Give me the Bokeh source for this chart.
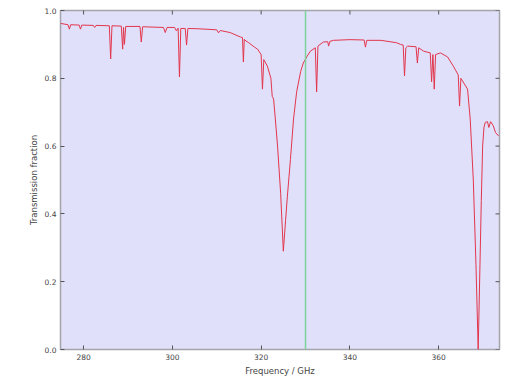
import math
from bokeh.plotting import figure
from bokeh.models import Span, Range1d, FixedTicker
from bokeh.embed import file_html
from bokeh.resources import INLINE

freq = [274.8, 276.5, 276.8, 277.1, 279.0, 279.3, 279.6, 282.2, 282.5, 282.8,
        285.8, 286.1, 286.4, 288.5, 288.8, 289.0, 289.2, 289.5, 292.7, 293.0,
        293.3, 298.0, 298.4, 298.8, 300.5, 300.9, 301.3, 301.6, 301.9, 302.9,
        303.2, 303.5, 306.0, 310.0, 310.4, 310.8, 313.0, 315.3, 315.8, 316.0,
        316.2, 316.6, 317.2, 318.5, 319.2, 320.0, 320.3, 320.6, 321.4, 322.2,
        322.5, 322.8, 323.2, 323.7, 324.4, 325.0, 325.5, 325.9, 326.6, 327.3,
        328.0, 328.9, 329.5, 330.4, 331.1, 332.2, 332.5, 332.8, 334.0, 335.0,
        335.2, 335.5, 336.3, 340.0, 343.2, 343.5, 343.8, 347.0, 350.5, 351.4,
        352.0, 352.3, 352.6, 353.0, 354.9, 355.2, 355.5, 356.6, 358.1, 358.4,
        358.7, 359.0, 359.3, 360.4, 362.0, 363.3, 364.4, 364.7, 365.0, 366.5,
        367.1, 367.8, 368.4, 368.9, 369.3, 369.6, 369.9, 370.2, 370.5, 371.0,
        371.3, 371.7, 372.3, 372.8, 373.5]
trans = [0.962, 0.958, 0.945, 0.958, 0.957, 0.945, 0.957, 0.956, 0.950, 0.956,
         0.955, 0.857, 0.955, 0.954, 0.886, 0.950, 0.900, 0.953, 0.953, 0.907,
         0.952, 0.950, 0.935, 0.950, 0.950, 0.940, 0.948, 0.804, 0.947, 0.947,
         0.898, 0.947, 0.946, 0.943, 0.934, 0.941, 0.935, 0.922, 0.920, 0.848,
         0.915, 0.910, 0.905, 0.892, 0.886, 0.870, 0.768, 0.855, 0.836, 0.800,
         0.747, 0.739, 0.680, 0.600, 0.460, 0.290, 0.380, 0.450, 0.560, 0.680,
         0.760, 0.820, 0.845, 0.866, 0.880, 0.890, 0.760, 0.895, 0.907, 0.908,
         0.895, 0.909, 0.912, 0.914, 0.913, 0.892, 0.912, 0.912, 0.905, 0.900,
         0.898, 0.807, 0.890, 0.895, 0.893, 0.845, 0.890, 0.880, 0.875, 0.790,
         0.870, 0.768, 0.870, 0.875, 0.863, 0.836, 0.810, 0.718, 0.800, 0.768,
         0.680, 0.500, 0.250, 0.000, 0.250, 0.440, 0.600, 0.655, 0.670, 0.672,
         0.655, 0.672, 0.660, 0.640, 0.630]

marker_freq = 330.0
x_ticks = [280, 300, 320, 340, 360]
y_ticks = [0.0, 0.2, 0.4, 0.6, 0.8, 1.0]
x_label = "Frequency / GHz"
y_label = "Transmission fraction"

x0, x1 = 274.8, 373.7
y0, y1 = 0.0, 1.0

p = figure(width=505, height=381, output_backend="svg", toolbar_location=None,
           x_range=Range1d(x0, x1), y_range=Range1d(y0, y1),
           min_border_left=60, min_border_right=6, min_border_top=10,
           min_border_bottom=32, background_fill_color="#e0e0fa",
           border_fill_color="white", outline_line_color="#a4a4ac",
           outline_line_width=1.5)
p.grid.visible = False

p.line(freq, trans, line_color="#e2364c", line_width=1.0)
p.add_layout(Span(location=marker_freq, dimension="height",
                  line_color="#7cd49a", line_width=1.5))

# mirror ticks on the right and top edges of the frame
p.scatter([x1] * len(y_ticks), y_ticks, marker="dash", size=8,
          line_color="#555555", line_width=1)
p.scatter(x_ticks, [y1] * len(x_ticks), marker="dash", size=8,
          angle=math.pi / 2, line_color="#555555", line_width=1)

font = "DejaVu Sans"
for ax in p.xaxis:
    ax.ticker = FixedTicker(ticks=x_ticks)
    ax.axis_label = x_label
for ax in p.yaxis:
    ax.ticker = FixedTicker(ticks=y_ticks)
    ax.axis_label = y_label
    ax.major_label_overrides = {t: f"{t:.1f}" for t in y_ticks}
for ax in p.xaxis + p.yaxis:
    ax.axis_line_color = None
    ax.major_tick_in = 4
    ax.major_tick_out = 0
    ax.minor_tick_line_color = None
    ax.major_tick_line_color = "#555555"
    ax.major_label_text_font = font
    ax.major_label_text_font_size = "7.5px"
    ax.major_label_text_color = "#444444"
    ax.axis_label_text_font = font
    ax.axis_label_text_font_size = "8.5px"
    ax.axis_label_text_font_style = "normal"
    ax.axis_label_text_color = "#444444"
    ax.major_label_standoff = 4
    ax.axis_label_standoff = 3

open("out.html", "w").write(file_html(p, INLINE))
